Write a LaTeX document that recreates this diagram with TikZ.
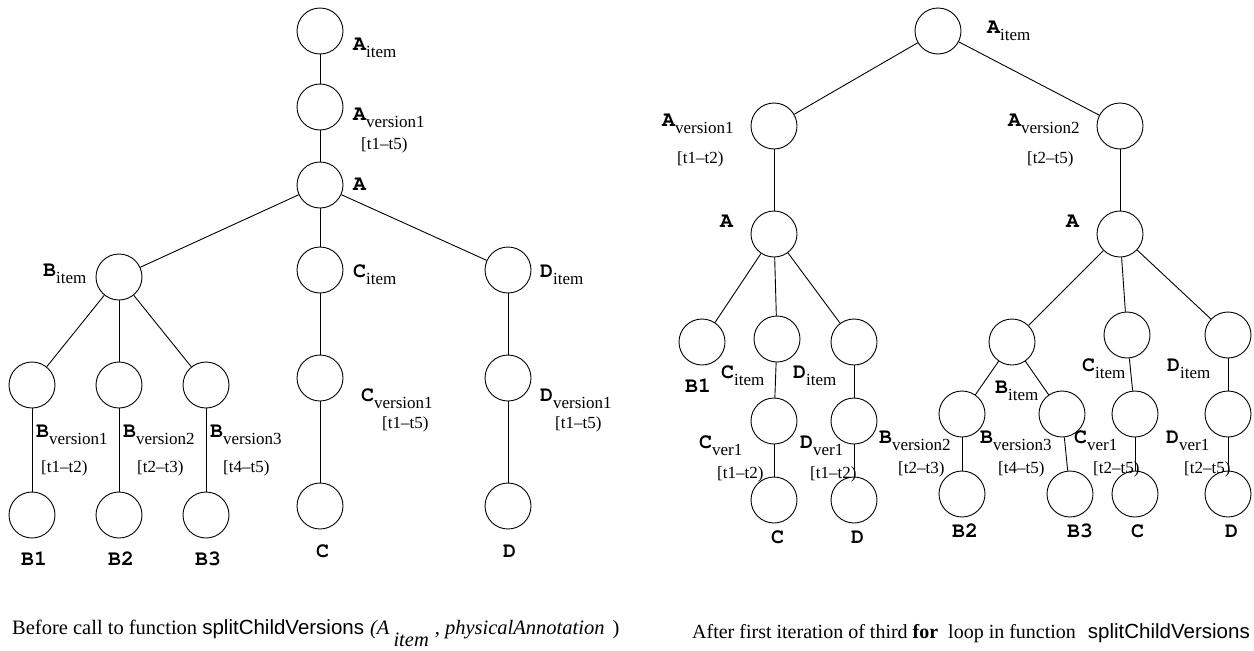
\documentclass[tikz,border=0pt]{standalone}
\usepackage[T1]{fontenc}
\usepackage{fontspec}
\setmainfont{Liberation Serif}
\newfontfamily\helvfont{Liberation Sans}
% bold Courier (URW Nimbus Mono) for the node names
\newcommand\courb{\fontencoding{T1}\fontfamily{pcr}\fontseries{b}\fontshape{n}\fontsize{21.5}{22}\selectfont}
% bold typewriter name with a lowered roman subscript
\newcommand\vname[2]{{\courb #1}\raisebox{-7pt}{#2}}
\newcommand\vbare[1]{{\courb #1}}
\tikzset{
  vtx/.style={circle, draw, minimum size=46pt, inner sep=0pt, line width=0.9pt},
  lab/.style={anchor=base west, inner sep=0pt, font=\fontsize{17}{20}\selectfont},
  captext/.style={anchor=base west, inner sep=0pt, font=\fontsize{20.5}{24}\selectfont},
  conn/.style={line width=0.9pt}
}
\begin{document}
\begin{tikzpicture}[x=1pt,y=-1pt]
\useasboundingbox (0,0) rectangle (1254,651);

% ---------- tree before the call ----------
\node[vtx] (la1) at (320,31) {};
\node[vtx] (la2) at (320,107) {};
\node[vtx] (la3) at (320,185) {};
\node[vtx] (lbi) at (119,277) {};
\node[vtx] (lci) at (320,270) {};
\node[vtx] (ldi) at (508,270) {};
\node[vtx] (lbv1) at (32,385) {};
\node[vtx] (lbv2) at (119,385) {};
\node[vtx] (lbv3) at (206,385) {};
\node[vtx] (lb1) at (32,515) {};
\node[vtx] (lb2) at (119,515) {};
\node[vtx] (lb3) at (206,515) {};
\node[vtx] (lcv) at (320,378) {};
\node[vtx] (lc) at (320,506) {};
\node[vtx] (ldv) at (508,378) {};
\node[vtx] (ld) at (508,506) {};

\draw[conn] (la1) -- (la2);
\draw[conn] (la2) -- (la3);
\draw[conn] (la3) -- (lbi);
\draw[conn] (la3) -- (lci);
\draw[conn] (la3) -- (ldi);
\draw[conn] (lbi) -- (lbv1);
\draw[conn] (lbi) -- (lbv2);
\draw[conn] (lbi) -- (lbv3);
\draw[conn] (lbv1) -- (lb1);
\draw[conn] (lbv2) -- (lb2);
\draw[conn] (lbv3) -- (lb3);
\draw[conn] (lci) -- (lcv);
\draw[conn] (lcv) -- (lc);
\draw[conn] (ldi) -- (ldv);
\draw[conn] (ldv) -- (ld);

\node[lab] (tla1) at (353,50) {\vname{A}{item}};
\node[lab] (tla2) at (353,120) {\vname{A}{version1}};
\node[lab] (tla2t) at (361,149) {[t1--t5)};
\node[lab] (tla3) at (353,190) {\vbare{A}};
\node[lab] (tlbi) at (43,276) {\vname{B}{item}};
\node[lab] (tlbv1) at (36,437) {\vname{B}{version1}};
\node[lab] (tlbv1t) at (41,472) {[t1--t2)};
\node[lab] (tlbv2) at (123,437) {\vname{B}{version2}};
\node[lab] (tlbv2t) at (137,472) {[t2--t3)};
\node[lab] (tlbv3) at (210,437) {\vname{B}{version3}};
\node[lab] (tlbv3t) at (223,472) {[t4--t5)};
\node[lab] (tlb1) at (21,565) {\vbare{B1}};
\node[lab] (tlb2) at (108,565) {\vbare{B2}};
\node[lab] (tlb3) at (195,565) {\vbare{B3}};
\node[lab] (tlci) at (353,277) {\vname{C}{item}};
\node[lab] (tlcv) at (361,401) {\vname{C}{version1}};
\node[lab] (tlcvt) at (382,428) {[t1--t5)};
\node[lab] (tlc) at (316,557) {\vbare{C}};
\node[lab] (tldi) at (540,277) {\vname{D}{item}};
\node[lab] (tldv) at (540,401) {\vname{D}{version1}};
\node[lab] (tldvt) at (555,428) {[t1--t5)};
\node[lab] (tld) at (503,557) {\vbare{D}};

\node[captext] (capl) at (12,634) {Before call to function {\helvfont splitChildVersions}\hspace{6pt}\textit{(A}\hspace{4pt}\raisebox{-12pt}{\textit{item}}\hspace{6pt}, \textit{physicalAnnotation}\hspace{8pt})};

% ---------- tree after the first iteration ----------
\node[vtx] (ra1) at (938,31) {};
\node[vtx] (rav1) at (774,126) {};
\node[vtx] (rav2) at (1120,126) {};
\node[vtx] (ral) at (774,234) {};
\node[vtx] (rar) at (1120,234) {};
\node[vtx] (rb1) at (702,342) {};
\node[vtx] (rci) at (777,339) {};
\node[vtx] (rdi) at (854,342) {};
\node[vtx] (rcv) at (774,421) {};
\node[vtx] (rdv) at (854,421) {};
\node[vtx] (rc) at (774,500) {};
\node[vtx] (rd) at (854,500) {};
\node[vtx] (rbi) at (1012,342) {};
\node[vtx] (rci2) at (1127,335) {};
\node[vtx] (rdi2) at (1228,335) {};
\node[vtx] (rbv2) at (962,414) {};
\node[vtx] (rbv3) at (1062,414) {};
\node[vtx] (rcv2) at (1135,414) {};
\node[vtx] (rdv2) at (1228,414) {};
\node[vtx] (rb2) at (962,494) {};
\node[vtx] (rb3) at (1070,494) {};
\node[vtx] (rc2) at (1135,494) {};
\node[vtx] (rd2) at (1228,494) {};

\draw[conn] (ra1) -- (rav1);
\draw[conn] (ra1) -- (rav2);
\draw[conn] (rav1) -- (ral);
\draw[conn] (rav2) -- (rar);
\draw[conn] (ral) -- (rb1);
\draw[conn] (ral) -- (rci);
\draw[conn] (ral) -- (rdi);
\draw[conn] (rci) -- (rcv);
\draw[conn] (rcv) -- (rc);
\draw[conn] (rdi) -- (rdv);
\draw[conn] (rdv) -- (rd);
\draw[conn] (rar) -- (rbi);
\draw[conn] (rar) -- (rci2);
\draw[conn] (rar) -- (rdi2);
\draw[conn] (rbi) -- (rbv2);
\draw[conn] (rbi) -- (rbv3);
\draw[conn] (rbv2) -- (rb2);
\draw[conn] (rbv3) -- (rb3);
\draw[conn] (rci2) -- (rcv2);
\draw[conn] (rcv2) -- (rc2);
\draw[conn] (rdi2) -- (rdv2);
\draw[conn] (rdv2) -- (rd2);

\node[lab] (tra1) at (987,33) {\vname{A}{item}};
\node[lab] (trav1) at (662,126) {\vname{A}{version1}};
\node[lab] (trav1t) at (677,163) {[t1--t2)};
\node[lab] (tral) at (720,227) {\vbare{A}};
\node[lab] (trav2) at (1008,126) {\vname{A}{version2}};
\node[lab] (trav2t) at (1027,163) {[t2--t5)};
\node[lab] (trar) at (1066,227) {\vbare{A}};
\node[lab] (trb1) at (685,392) {\vbare{B1}};
\node[lab] (trci) at (721,378) {\vname{C}{item}};
\node[lab] (trdi) at (793,378) {\vname{D}{item}};
\node[lab] (trcv) at (699,448) {\vname{C}{ver1}};
\node[lab] (trcvt) at (717,478) {[t1--t2)};
\node[lab] (trdv) at (800,448) {\vname{D}{ver1}};
\node[lab] (trdvt) at (810,478) {[t1--t2)};
\node[lab] (trc) at (771,543) {\vbare{C}};
\node[lab] (trd) at (851,543) {\vbare{D}};
\node[lab] (trbv2) at (879,443) {\vname{B}{version2}};
\node[lab] (trbv2t) at (898,473) {[t2--t3)};
\node[lab] (trbi) at (995,393) {\vname{B}{item}};
\node[lab] (trci2) at (1082,371) {\vname{C}{item}};
\node[lab] (trdi2) at (1167,371) {\vname{D}{item}};
\node[lab] (trbv3) at (980,443) {\vname{B}{version3}};
\node[lab] (trbv3t) at (998,473) {[t4--t5)};
\node[lab] (trcv2) at (1074,443) {\vname{C}{ver1}};
\node[lab] (trcv2t) at (1093,473) {[t2--t5)};
\node[lab] (trdv2) at (1166,443) {\vname{D}{ver1}};
\node[lab] (trdv2t) at (1184,473) {[t2--t5)};
\node[lab] (trb2) at (952,537) {\vbare{B2}};
\node[lab] (trb3) at (1067,537) {\vbare{B3}};
\node[lab] (trc2) at (1131,537) {\vbare{C}};
\node[lab] (trd2) at (1225,537) {\vbare{D}};

\node[captext, font=\fontsize{20}{24}\selectfont] (capr) at (692,638) {After first iteration of third \textbf{for}\ \ loop in function\ \ \hspace{2pt}{\helvfont\fontsize{20.5}{24}\selectfont splitChildVersions}};
\end{tikzpicture}
\end{document}
